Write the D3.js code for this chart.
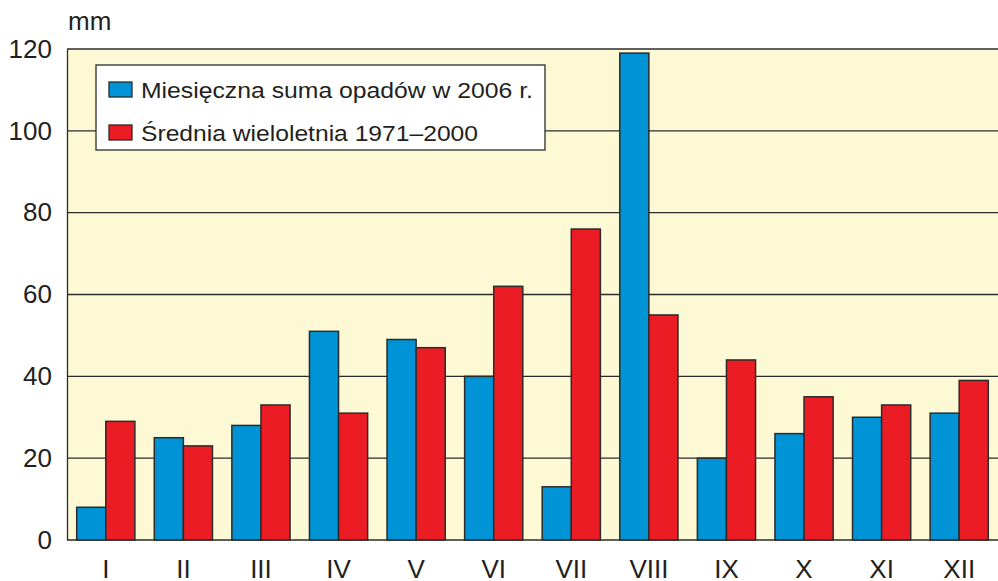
<!DOCTYPE html>
<html>
<head>
<meta charset="utf-8">
<script src="https://cdn.jsdelivr.net/npm/d3@7"></script>
<style>
  body { margin: 0; background: #fff; }
  text { font-family: "Liberation Sans", Arial, sans-serif; fill: #231f20; }
</style>
</head>
<body>
<div id="chart"></div>
<script>
var months = ["I", "II", "III", "IV", "V", "VI", "VII", "VIII", "IX", "X", "XI", "XII"];
var rain2006 = [8, 25, 28, 51, 49, 40, 13, 119, 20, 26, 30, 31];
var mean7100 = [29, 23, 33, 31, 47, 62, 76, 55, 44, 35, 33, 39];
var seriesNames = ["Miesięczna suma opadów w 2006 r.", "Średnia wieloletnia 1971–2000"];
var yTicks = [0, 20, 40, 60, 80, 100, 120];

var svgWidth = 998;
var svgHeight = 581;
var margin = { top: 49, right: 0, bottom: 41, left: 67 };
var chartWidth = svgWidth - margin.left - margin.right;
var chartHeight = svgHeight - margin.top - margin.bottom;

var colors = ["#0093d6", "#ec1c24"];

var svg = d3.select("#chart")
  .append("svg")
  .attr("width", svgWidth)
  .attr("height", svgHeight);

var chartGroup = svg.append("g")
  .attr("transform", `translate(${margin.left}, ${margin.top})`);

var x0 = d3.scaleBand()
  .domain(months)
  .range([0, chartWidth])
  .paddingInner(0.25)
  .paddingOuter(0.125);

var x1 = d3.scaleBand()
  .domain([0, 1])
  .range([0, x0.bandwidth()]);

var y = d3.scaleLinear()
  .domain([0, 120])
  .range([chartHeight, 0]);

// background
chartGroup.append("rect")
  .attr("width", chartWidth)
  .attr("height", chartHeight)
  .attr("fill", "#fef9d5");

// grid lines
chartGroup.selectAll(".grid")
  .data(yTicks)
  .enter()
  .append("line")
  .attr("x1", 0)
  .attr("x2", chartWidth)
  .attr("y1", d => y(d))
  .attr("y2", d => y(d))
  .attr("stroke", "#2b2b2b")
  .attr("stroke-width", 1.3);

// left axis
var leftAxis = d3.axisLeft(y).tickValues(yTicks).tickSize(0).tickPadding(15);
var yAxisG = chartGroup.append("g").call(leftAxis);
yAxisG.select(".domain").attr("stroke", "#2b2b2b").attr("stroke-width", 1.3);
yAxisG.selectAll("text")
  .attr("font-size", 26)
  .attr("font-family", "Liberation Sans, Arial, sans-serif")
  .attr("fill", "#231f20");

// bottom axis
var bottomAxis = d3.axisBottom(x0).tickSize(0).tickPadding(20);
var xAxisG = chartGroup.append("g")
  .attr("transform", `translate(0, ${chartHeight})`)
  .call(bottomAxis);
xAxisG.select(".domain").remove();
xAxisG.selectAll("text")
  .attr("font-size", 26)
  .attr("font-family", "Liberation Sans, Arial, sans-serif")
  .attr("fill", "#231f20");

// bars
var groups = chartGroup.selectAll(".month")
  .data(months)
  .enter()
  .append("g")
  .attr("transform", d => `translate(${x0(d)}, 0)`);

groups.selectAll("rect")
  .data((d, i) => [rain2006[i], mean7100[i]])
  .enter()
  .append("rect")
  .attr("x", (d, j) => x1(j))
  .attr("y", d => y(d))
  .attr("width", x1.bandwidth())
  .attr("height", d => chartHeight - y(d))
  .attr("fill", (d, j) => colors[j])
  .attr("stroke", "#2b2b2b")
  .attr("stroke-width", 1.5);

// unit label
svg.append("text")
  .attr("x", 68)
  .attr("y", 29.5)
  .attr("font-size", 26)
  .text("mm");

// legend
var legend = svg.append("g").attr("transform", "translate(96, 65)");
legend.append("rect")
  .attr("width", 449)
  .attr("height", 85)
  .attr("fill", "#fff")
  .attr("stroke", "#2b2b2b")
  .attr("stroke-width", 1.3);

var legendTextWidth = [392, 337];

var items = legend.selectAll(".item")
  .data(seriesNames)
  .enter()
  .append("g")
  .attr("transform", (d, i) => `translate(13, ${17 + i * 43})`);

items.append("rect")
  .attr("width", 23)
  .attr("height", 15)
  .attr("fill", (d, i) => colors[i])
  .attr("stroke", "#2b2b2b")
  .attr("stroke-width", 1.3);

items.append("text")
  .attr("x", 32)
  .attr("y", 15.5)
  .attr("font-size", 22)
  .attr("textLength", (d, i) => legendTextWidth[i])
  .attr("lengthAdjust", "spacingAndGlyphs")
  .text(d => d);
</script>
</body>
</html>
